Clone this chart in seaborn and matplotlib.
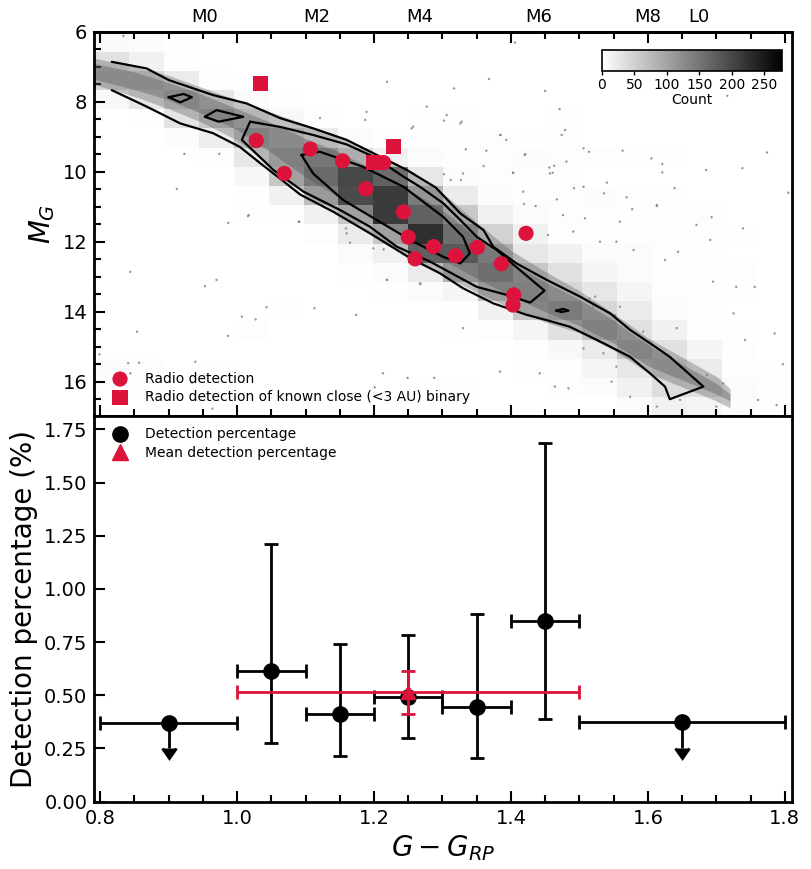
import numpy as np
import seaborn as sns
import matplotlib.pyplot as plt
from matplotlib.lines import Line2D
from matplotlib.ticker import MultipleLocator, FormatStrFormatter

sns.set_style('ticks')
plt.rcParams.update({
    'font.family': ['DejaVu Sans'],
    'axes.edgecolor': 'black',
    'axes.linewidth': 2,
    'text.color': 'black',
    'axes.labelcolor': 'black',
    'xtick.color': 'black',
    'ytick.color': 'black',
    'mathtext.fontset': 'dejavusans',
})

RED = 'crimson'

# ---------------- top panel data ----------------
# 2D histogram (20 x 20 bins), rows = M_G bins (bright -> faint), cols = colour bins
hist_xrange = (0.7915, 1.810)
hist_yrange = (6.02, 16.99)
hist_counts = [
    [6, 4, 2, 0, 0, 0, 0, 0, 0, 0, 0, 0, 1, 0, 0, 0, 0, 0, 0, 0],
    [33, 16, 3, 1, 0, 0, 0, 0, 0, 0, 0, 0, 0, 0, 0, 0, 0, 0, 0, 0],
    [44, 44, 22, 3, 1, 0, 0, 0, 1, 0, 1, 1, 0, 0, 0, 0, 0, 0, 0, 0],
    [8, 27, 55, 27, 5, 2, 0, 0, 0, 1, 0, 0, 1, 0, 0, 0, 0, 0, 1, 0],
    [1, 3, 30, 60, 25, 8, 3, 1, 1, 2, 2, 0, 0, 2, 0, 0, 0, 0, 0, 0],
    [0, 0, 4, 20, 66, 44, 22, 5, 2, 2, 2, 3, 2, 3, 0, 0, 0, 0, 0, 0],
    [0, 0, 1, 3, 27, 71, 93, 40, 16, 5, 3, 3, 4, 3, 3, 2, 2, 0, 0, 1],
    [0, 0, 1, 1, 8, 60, 126, 213, 147, 27, 5, 3, 3, 3, 1, 0, 1, 1, 1, 0],
    [0, 0, 1, 0, 2, 16, 71, 202, 245, 82, 22, 4, 3, 3, 4, 3, 2, 1, 0, 1],
    [0, 0, 0, 1, 3, 3, 16, 60, 245, 147, 60, 16, 5, 3, 3, 2, 2, 3, 0, 0],
    [0, 0, 0, 0, 1, 1, 3, 22, 60, 278, 114, 49, 16, 3, 3, 3, 3, 2, 2, 0],
    [0, 0, 0, 0, 0, 0, 1, 5, 16, 169, 169, 87, 27, 16, 5, 5, 3, 2, 0, 0],
    [0, 1, 0, 0, 0, 0, 1, 2, 5, 22, 82, 114, 60, 33, 11, 5, 3, 3, 3, 1],
    [0, 0, 1, 1, 0, 0, 1, 1, 2, 5, 11, 71, 71, 44, 27, 11, 3, 2, 2, 1],
    [0, 0, 0, 1, 1, 2, 1, 1, 0, 1, 2, 16, 60, 82, 44, 22, 5, 3, 1, 0],
    [1, 1, 0, 0, 3, 1, 0, 0, 0, 0, 2, 3, 11, 33, 65, 33, 16, 3, 2, 1],
    [1, 0, 0, 0, 1, 0, 0, 0, 0, 0, 0, 1, 3, 8, 22, 60, 33, 11, 3, 1],
    [4, 3, 0, 2, 0, 0, 0, 0, 1, 0, 0, 1, 3, 3, 11, 27, 44, 22, 3, 2],
    [3, 2, 1, 2, 0, 0, 0, 0, 1, 2, 2, 1, 1, 3, 4, 16, 38, 33, 5, 3],
    [0, 0, 0, 1, 0, 0, 0, 0, 0, 0, 0, 0, 0, 0, 1, 5, 16, 11, 4, 2],
]

# dense part of the sample (main sequence band) and its denser core
band_x = [0.79, 0.85, 0.90, 0.95, 1.00, 1.05, 1.10, 1.15, 1.20, 1.25,
          1.30, 1.35, 1.40, 1.45, 1.50, 1.55, 1.60, 1.65, 1.70, 1.72]
band_hi = [6.75, 7.00, 7.25, 7.60, 7.95, 8.30, 8.65, 9.00, 9.45, 9.95,
           10.60, 11.45, 12.25, 12.85, 13.40, 14.05, 14.75, 15.30, 15.85, 16.20]
band_lo = [7.50, 7.85, 8.20, 8.60, 9.10, 9.85, 10.65, 11.20, 11.85, 12.45,
           12.95, 13.45, 13.90, 14.30, 14.60, 15.10, 15.75, 16.15, 16.55, 16.75]
core_hi = [6.90, 7.15, 7.45, 7.80, 8.20, 8.60, 9.05, 9.45, 9.95, 10.50,
           11.10, 11.90, 12.60, 13.15, 13.65, 14.25, 14.95, 15.50, 16.05, 16.35]
core_lo = [7.35, 7.65, 7.95, 8.35, 8.80, 9.45, 10.15, 10.75, 11.35, 11.95,
           12.50, 13.05, 13.55, 14.00, 14.40, 14.90, 15.55, 15.95, 16.35, 16.55]

# scattered stars away from the band
field_x = [1.406, 1.368, 1.317, 1.450, 1.471, 1.302, 1.328, 1.479, 1.474, 1.385, 1.393, 1.334,
           1.364, 1.421, 1.506, 1.514, 1.563, 1.605, 1.621, 1.621, 1.685, 1.738, 1.774, 1.716,
           1.360, 1.403, 1.456, 1.463, 1.461, 1.481, 1.540, 1.536, 1.492, 1.506, 1.467, 1.569,
           1.577, 1.613, 1.639, 1.693, 1.805, 1.330, 1.302, 1.312, 1.327, 1.419, 1.436, 1.508,
           1.330, 1.384, 1.442, 1.464, 1.484, 1.535, 1.554, 1.547, 1.574, 1.613, 1.647, 1.686,
           1.710, 1.725, 1.742, 1.785, 1.797, 1.761, 1.788, 1.700, 1.642, 1.644, 1.625, 1.695,
           1.729, 1.756, 1.691, 1.671, 1.739, 1.579, 1.554, 1.530, 1.454, 1.476, 1.613, 1.559,
           1.491, 1.506, 1.559, 1.593, 1.515, 1.523, 1.520, 1.559, 1.552,
           1.017, 0.987, 1.091, 0.844, 0.970, 0.953, 1.043, 1.007, 1.027, 1.113, 1.174, 1.219,
           1.268, 0.854, 0.987, 0.799, 0.841, 0.857, 0.939, 0.844, 1.213, 1.249, 1.288, 1.201,
           0.964, 0.934, 1.160, 1.165, 1.159, 1.214, 1.199,
           0.834, 0.923, 0.974, 0.912, 0.880, 1.189, 1.219, 1.277, 1.187, 1.257, 1.306, 1.121,
           1.016, 1.090, 1.219, 1.267, 1.420, 1.403, 1.384, 1.326, 1.255, 1.418, 1.457]
field_y = [6.31, 7.35, 7.62, 7.69, 8.21, 8.54, 8.57, 8.81, 8.95, 8.95, 9.09, 9.36,
           9.40, 9.50, 9.33, 9.43, 9.40, 9.62, 9.78, 10.02, 9.95, 9.90, 9.45, 7.83,
           9.84, 10.03, 9.88, 9.83, 10.03, 9.71, 10.31, 10.62, 10.47, 10.43, 10.79, 10.73,
           11.07, 10.98, 10.47, 11.30, 10.60, 10.05, 10.07, 10.24, 10.24, 10.92, 10.98, 11.33,
           14.47, 15.71, 15.76, 16.14, 16.19, 15.19, 15.57, 16.00, 16.43, 16.71, 16.52, 15.81,
           16.05, 14.05, 14.81, 14.62, 15.50, 16.52, 16.67, 16.71, 14.47, 12.29, 12.52, 13.14,
           13.29, 13.29, 11.95, 11.52, 11.62, 12.24, 12.00, 12.00, 11.81, 11.24, 10.95, 11.43,
           11.71, 15.05, 14.71, 14.57, 13.62, 13.57, 13.86, 13.86, 14.10,
           11.24, 11.46, 11.43, 12.86, 13.09, 13.27, 13.87, 14.14, 14.22, 13.90, 14.09, 13.09,
           13.21, 14.57, 14.69, 15.22, 15.47, 15.46, 15.43, 15.76, 15.76, 15.89, 15.89, 16.16,
           16.77, 16.03, 11.76, 12.03, 11.62, 12.22, 12.19,
           6.12, 9.49, 9.49, 10.49, 6.03, 8.29, 7.43, 8.14, 8.52, 8.71, 8.38, 8.47,
           11.27, 11.43, 13.09, 13.19, 9.52, 10.03, 8.95, 8.62, 8.76, 10.57, 10.05]

# density contours
outer_x = [0.817, 0.868, 0.900, 0.965, 1.014, 1.063, 1.111, 1.160, 1.209, 1.248, 1.290,
           1.326, 1.360, 1.374, 1.408, 1.452, 1.501, 1.545, 1.574, 1.603, 1.632, 1.681,
           1.632, 1.625, 1.603, 1.574, 1.535, 1.486, 1.452, 1.423, 1.374, 1.330, 1.296,
           1.253, 1.194, 1.141, 1.092, 1.063, 1.034, 1.004, 0.965, 0.917, 0.868, 0.817]
outer_y = [6.86, 7.05, 7.38, 7.81, 8.05, 8.47, 8.76, 9.09, 9.57, 9.95, 10.45,
           11.19, 11.67, 12.14, 12.62, 13.09, 13.57, 14.05, 14.52, 14.90, 15.29, 16.14,
           16.50, 16.14, 15.76, 15.29, 14.90, 14.43, 14.24, 14.09, 13.76, 13.33, 12.90,
           12.47, 11.76, 11.15, 10.65, 10.20, 9.76, 9.29, 8.90, 8.62, 8.14, 7.67]
mid_x = [1.019, 1.063, 1.111, 1.160, 1.199, 1.243, 1.267, 1.301, 1.326, 1.350, 1.379,
         1.413, 1.449, 1.428, 1.394, 1.350, 1.282, 1.233, 1.194, 1.150, 1.097, 1.053,
         1.007, 1.019]
mid_y = [8.57, 8.72, 8.95, 9.22, 9.57, 10.14, 10.43, 10.90, 11.38, 11.86, 12.24,
         12.81, 13.40, 13.74, 13.52, 13.29, 12.57, 12.14, 11.57, 11.09, 10.57, 9.95,
         9.09, 8.57]
inner_x = [1.094, 1.121, 1.184, 1.243, 1.301, 1.330, 1.340, 1.326, 1.301, 1.253, 1.204,
           1.155, 1.111, 1.094]
inner_y = [9.52, 9.43, 9.86, 10.43, 11.29, 11.86, 12.33, 12.62, 12.43, 11.95, 11.38,
           10.81, 10.05, 9.52]
island_x = [[0.900, 0.922, 0.934, 0.917, 0.900],
            [0.953, 0.970, 1.009, 0.973, 0.953],
            [1.466, 1.476, 1.484, 1.474, 1.466]]
island_y = [[7.87, 7.78, 7.87, 8.02, 7.87],
            [8.43, 8.24, 8.43, 8.57, 8.43],
            [13.97, 13.92, 13.97, 14.01, 13.97]]

# radio detections
det_x = [1.028, 1.069, 1.107, 1.154, 1.214, 1.188, 1.243, 1.250, 1.287, 1.260,
         1.319, 1.351, 1.386, 1.422, 1.404, 1.403]
det_y = [9.11, 10.05, 9.35, 9.69, 9.74, 10.49, 11.15, 11.87, 12.14, 12.49,
         12.40, 12.16, 12.63, 11.76, 13.52, 13.81]
bin_x = [1.034, 1.228, 1.199]
bin_y = [7.49, 9.27, 9.74]

spt_pos = [0.952, 1.116, 1.267, 1.441, 1.599, 1.675]
spt_labels = ['M0', 'M2', 'M4', 'M6', 'M8', 'L0']

# ---------------- bottom panel data ----------------
pct_x = [0.90, 1.05, 1.15, 1.25, 1.35, 1.45, 1.65]
pct_xerr = [0.10, 0.05, 0.05, 0.05, 0.05, 0.05, 0.15]
pct_y = [0.370, 0.613, 0.412, 0.490, 0.447, 0.849, 0.373]
pct_lo = [0.120, 0.335, 0.196, 0.193, 0.244, 0.460, 0.120]
pct_hi = [0.0, 0.598, 0.327, 0.292, 0.434, 0.838, 0.0]
pct_limit = [True, False, False, False, False, False, True]

mean_x, mean_xerr = 1.25, 0.25
mean_y, mean_yerr = 0.514, 0.100

# ---------------- figure ----------------
fig = plt.figure(figsize=(8.11, 8.69), dpi=100)
ax = fig.add_axes([0.1163, 0.5217, 0.8599, 0.4418])
ax2 = fig.add_axes([0.1163, 0.0775, 0.8599, 0.4442])

x_edges = np.linspace(*hist_xrange, 21)
y_edges = np.linspace(*hist_yrange, 21)
mesh = ax.pcolormesh(x_edges, y_edges, np.array(hist_counts), cmap='gray_r',
                     vmin=0, vmax=278, zorder=0)

ax.fill_between(band_x, band_hi, band_lo, color='0.35', alpha=0.35, lw=0, zorder=1)
ax.fill_between(band_x, core_hi, core_lo, color='0.3', alpha=0.35, lw=0, zorder=1)
sns.scatterplot(x=field_x, y=field_y, s=3, color='0.5', alpha=0.8, edgecolor='none',
                ax=ax, legend=False, zorder=2)

for cx, cy in [(outer_x, outer_y), (mid_x, mid_y), (inner_x, inner_y)] + list(zip(island_x, island_y)):
    ax.plot(cx, cy, color='black', lw=1.6, zorder=3)

sns.scatterplot(x=det_x, y=det_y, marker='o', s=120, color=RED, edgecolor='none',
                label='Radio detection', ax=ax, zorder=4)
sns.scatterplot(x=bin_x, y=bin_y, marker='s', s=120, color=RED, edgecolor='none',
                label='Radio detection of known close (<3 AU) binary', ax=ax, zorder=4)
ax.legend(loc='lower left', frameon=False, fontsize=10, handletextpad=0.8,
          borderaxespad=0.45, labelspacing=0.3)

ax.set_xlim(0.7915, 1.81)
ax.set_ylim(16.97, 6)
ax.set_ylabel('$M_G$', fontsize=20)
ax.xaxis.set_major_locator(MultipleLocator(0.2))
ax.xaxis.set_minor_locator(MultipleLocator(0.05))
ax.yaxis.set_major_locator(MultipleLocator(2))
ax.yaxis.set_minor_locator(MultipleLocator(0.5))
ax.tick_params(which='both', direction='in', top=True, bottom=True, left=True, right=False,
               labelbottom=False, labelsize=14, width=1.5, pad=5)
ax.tick_params(which='major', length=8)
ax.tick_params(which='minor', length=5)

sec = ax.secondary_xaxis('top')
sec.set_xticks(spt_pos, spt_labels)
sec.tick_params(length=0, labelsize=13, pad=4)

cax = fig.add_axes([0.742, 0.9183, 0.2227, 0.0242])
cb = fig.colorbar(mesh, cax=cax, orientation='horizontal')
cb.set_ticks([0, 50, 100, 150, 200, 250])
cb.ax.tick_params(labelsize=10, length=3, width=1, pad=2)
cb.outline.set_linewidth(1.2)
cb.set_label('Count', fontsize=10, labelpad=1)

# bottom panel
for i in range(len(pct_x)):
    ax2.errorbar(pct_x[i], pct_y[i], xerr=pct_xerr[i], yerr=[[pct_lo[i]], [pct_hi[i]]],
                 uplims=pct_limit[i], fmt='o', color='black', ms=11, capsize=5,
                 elinewidth=2, capthick=2, zorder=3)
ax2.errorbar(mean_x, mean_y, xerr=mean_xerr, yerr=mean_yerr, fmt='^', color=RED, ms=10,
             capsize=5, elinewidth=2, capthick=2, zorder=4)

handles = [Line2D([], [], marker='o', color='black', ls='none', ms=11),
           Line2D([], [], marker='^', color=RED, ls='none', ms=11)]
ax2.legend(handles, ['Detection percentage', 'Mean detection percentage'], loc='upper left',
           frameon=False, fontsize=10, handletextpad=0.8, borderaxespad=0.45, labelspacing=0.3)

ax2.set_xlim(0.7915, 1.81)
ax2.set_ylim(0, 1.815)
ax2.xaxis.set_major_locator(MultipleLocator(0.2))
ax2.xaxis.set_minor_locator(MultipleLocator(0.05))
ax2.yaxis.set_major_locator(MultipleLocator(0.25))
ax2.yaxis.set_major_formatter(FormatStrFormatter('%.2f'))
ax2.tick_params(which='both', direction='in', top=False, right=False, labelsize=14,
                width=1.5, pad=5)
ax2.tick_params(which='major', length=8)
ax2.tick_params(which='minor', length=5)
ax2.set_xlabel('$G - G_{RP}$', fontsize=20)
ax2.set_ylabel('Detection percentage (%)', fontsize=20)

fig.savefig('out.png', dpi=100)
